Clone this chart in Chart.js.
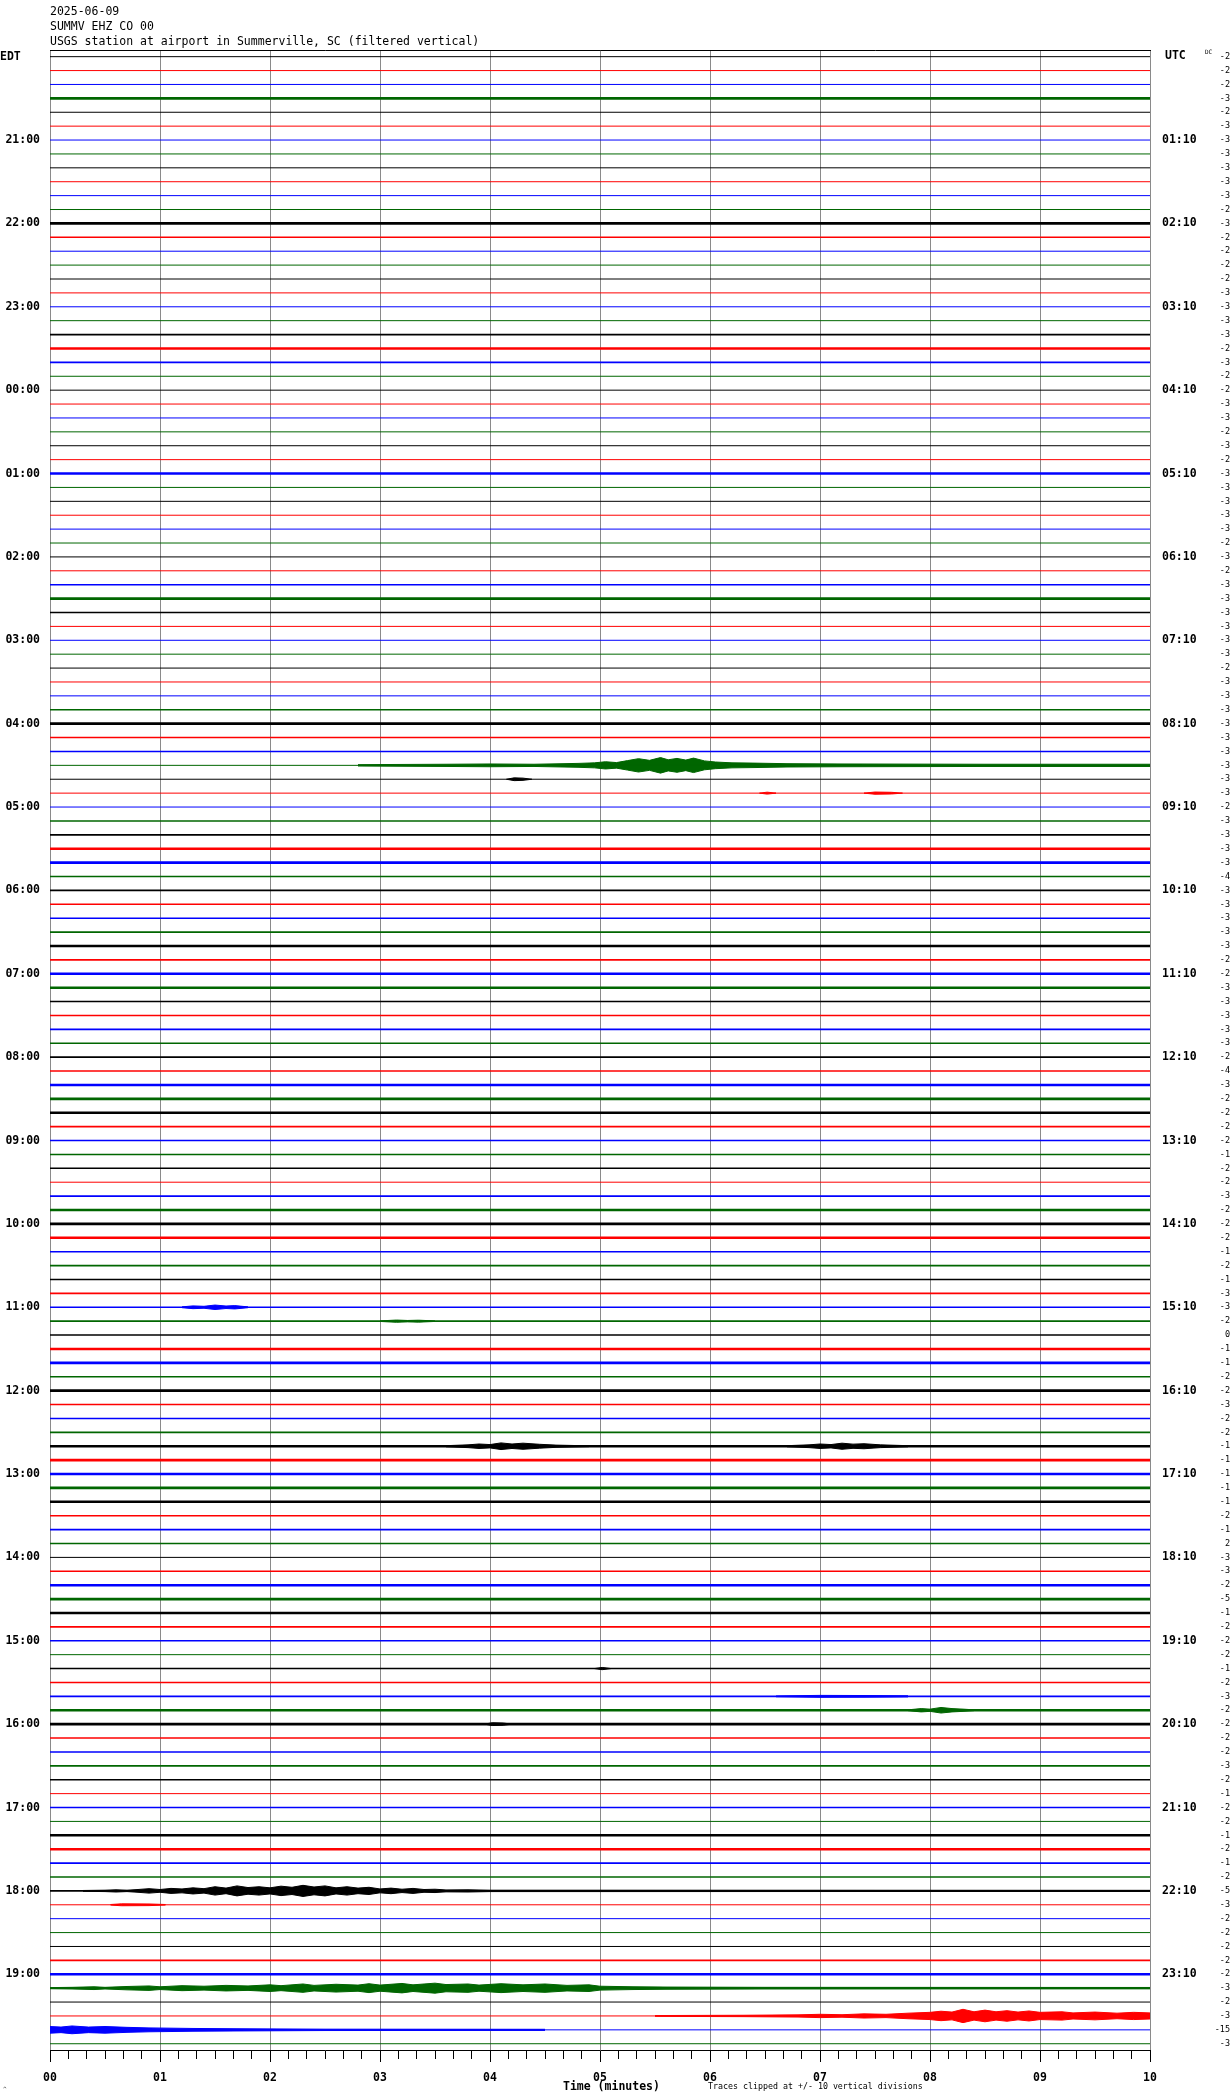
<!DOCTYPE html>
<html>
<head>
<meta charset="utf-8">
<title>SUMMV EHZ CO 00 helicorder</title>
<script src="https://cdn.jsdelivr.net/npm/chart.js@4.4.1/dist/chart.umd.min.js"></script>
<style>
  html, body { margin: 0; padding: 0; background: #fff; }
  canvas { display: block; }
</style>
</head>
<body>
<canvas id="heli" width="1230" height="2094"></canvas>
<script>
// one trace per 10 minutes, 144 traces starting 20:00 EDT
const header = ['2025-06-09', 'SUMMV EHZ CO 00', 'USGS station at airport in Summerville, SC (filtered vertical)'];
const xTitle = 'Time (minutes)';
const footNote = 'Traces clipped at +/- 10 vertical divisions';

const edtHours = ['21:00', '22:00', '23:00', '00:00', '01:00', '02:00', '03:00', '04:00', '05:00', '06:00', '07:00', '08:00',
  '09:00', '10:00', '11:00', '12:00', '13:00', '14:00', '15:00', '16:00', '17:00', '18:00', '19:00'];
const utcHours = ['01:10', '02:10', '03:10', '04:10', '05:10', '06:10', '07:10', '08:10', '09:10', '10:10', '11:10', '12:10',
  '13:10', '14:10', '15:10', '16:10', '17:10', '18:10', '19:10', '20:10', '21:10', '22:10', '23:10'];
const minuteLabels = ['00', '01', '02', '03', '04', '05', '06', '07', '08', '09', '10'];

// DC offset printed at the right of every trace
const dcOffsets = [
  -2, -2, -2, -3, -2, -3, -3, -3, -3, -3, -3, -2, -3, -2, -2, -2, -2, -3, -3, -3, -3, -2, -3, -2,
  -2, -3, -3, -2, -3, -2, -3, -3, -3, -3, -3, -2, -3, -2, -3, -3, -3, -3, -3, -3, -2, -3, -3, -3,
  -3, -3, -3, -3, -3, -3, -2, -3, -3, -3, -3, -4, -3, -3, -3, -3, -3, -2, -2, -3, -3, -3, -3, -3,
  -2, -4, -3, -2, -2, -2, -2, -1, -2, -2, -3, -2, -2, -2, -1, -2, -1, -3, -3, -2, 0, -1, -1, -2,
  -2, -3, -2, -2, -1, -1, -1, -1, -1, -2, -1, 2, -3, -3, -2, -5, -1, -2, -2, -2, -1, -2, -3, -2,
  -2, -2, -2, -3, -2, -1, -2, -2, -1, -2, -1, -2, -5, -3, -2, -2, -2, -2, -2, -3, -2, -3, -15, -3
];

// background noise of each trace: 1 quiet, 2 speckled, 3 busy
const noiseLevel = [
  1, 1, 1, 3, 1, 1, 1, 1, 1, 1, 1, 1, 3, 2, 1, 1, 1, 1, 1, 1, 2, 3, 2, 1,
  1, 1, 1, 1, 1, 1, 3, 1, 1, 1, 1, 1, 1, 1, 2, 3, 2, 1, 1, 1, 1, 1, 1, 2,
  3, 2, 2, 1, 1, 1, 1, 2, 2, 3, 3, 2, 2, 2, 2, 2, 3, 2, 3, 3, 2, 2, 2, 2,
  2, 2, 3, 3, 3, 2, 2, 2, 2, 1, 2, 3, 3, 3, 2, 2, 2, 2, 2, 2, 2, 3, 3, 2,
  3, 2, 2, 2, 3, 3, 3, 3, 3, 2, 2, 2, 1, 2, 3, 3, 3, 2, 2, 1, 2, 2, 2, 3,
  3, 2, 2, 2, 2, 1, 2, 1, 3, 3, 2, 2, 2, 1, 1, 1, 1, 2, 3, 2, 1, 1, 1, 1
];

// wiggle bursts: trace row, then [minute, half height in trace spacings]
const bursts = [
  { row: 51, env: [[2.8, .05], [3.6, .08], [4.0, .1], [4.4, .08], [4.8, .14], [4.95, .18], [5.05, .26], [5.15, .2], [5.25, .34],
    [5.35, .48], [5.45, .36], [5.55, .56], [5.62, .4], [5.7, .5], [5.78, .38], [5.85, .52], [5.95, .32], [6.05, .24], [6.2, .18],
    [6.4, .16], [6.7, .12], [7.2, .1], [8.5, .08], [10, .08]] },
  { row: 52, env: [[4.15, 0], [4.22, .1], [4.3, .08], [4.38, 0]] },
  { row: 53, env: [[6.45, 0], [6.52, .07], [6.6, 0]] },
  { row: 53, env: [[7.4, 0], [7.5, .08], [7.65, .06], [7.75, 0]] },
  { row: 90, env: [[1.2, .03], [1.3, .1], [1.4, .07], [1.5, .16], [1.6, .09], [1.68, .12], [1.8, .03]] },
  { row: 91, env: [[3.0, .02], [3.15, .08], [3.25, .05], [3.35, .07], [3.5, .02]] },
  { row: 100, env: [[3.6, .04], [3.8, .1], [3.9, .16], [4.0, .12], [4.1, .24], [4.2, .16], [4.3, .22], [4.45, .14], [4.6, .08],
    [4.9, .03]] },
  { row: 100, env: [[6.7, .04], [6.9, .1], [7.0, .16], [7.1, .12], [7.2, .22], [7.3, .15], [7.4, .18], [7.55, .1], [7.8, .04]] },
  { row: 116, env: [[4.95, 0], [5.02, .08], [5.1, 0]] },
  { row: 118, env: [[6.6, .03], [7.0, .07], [7.4, .06], [7.8, .04]] },
  { row: 119, env: [[7.8, .03], [7.92, .12], [8.0, .08], [8.1, .2], [8.2, .12], [8.3, .08], [8.4, .03]] },
  { row: 120, env: [[3.95, 0], [4.02, .1], [4.12, .08], [4.2, 0]] },
  { row: 132, env: [[0.3, .03], [0.5, .05], [0.6, .08], [0.7, .05], [0.8, .1], [0.9, .16], [1.0, .1], [1.1, .18], [1.2, .14],
    [1.3, .22], [1.4, .16], [1.5, .3], [1.6, .2], [1.7, .36], [1.8, .24], [1.9, .3], [2.0, .22], [2.1, .34], [2.2, .26],
    [2.3, .4], [2.4, .28], [2.5, .36], [2.6, .22], [2.7, .3], [2.8, .2], [2.9, .26], [3.0, .14], [3.1, .2], [3.2, .12],
    [3.3, .18], [3.4, .1], [3.5, .12], [3.6, .07], [3.8, .08], [4.0, .05], [5.0, .05], [10, .04]] },
  { row: 133, env: [[0.55, .02], [0.65, .07], [0.9, .06], [1.05, .02]] },
  { row: 139, env: [[0, .04], [0.2, .06], [0.4, .1], [0.5, .06], [0.7, .12], [0.9, .16], [1.0, .1], [1.2, .18], [1.4, .14],
    [1.6, .2], [1.8, .16], [2.0, .24], [2.1, .18], [2.3, .3], [2.4, .2], [2.6, .28], [2.8, .22], [2.9, .32], [3.0, .22],
    [3.2, .34], [3.3, .24], [3.5, .36], [3.6, .26], [3.8, .3], [3.9, .22], [4.1, .32], [4.3, .24], [4.5, .3], [4.7, .2],
    [4.9, .24], [5.0, .14], [5.3, .1], [5.6, .08], [6.5, .06], [10, .05]] },
  { row: 141, env: [[5.5, .03], [6.3, .05], [6.8, .08], [7.0, .12], [7.2, .09], [7.4, .15], [7.6, .12], [7.8, .2], [8.0, .26],
    [8.1, .34], [8.2, .28], [8.3, .48], [8.4, .3], [8.5, .42], [8.6, .3], [8.7, .38], [8.8, .28], [8.9, .36], [9.0, .26],
    [9.2, .3], [9.3, .22], [9.5, .28], [9.7, .2], [9.85, .26], [10, .22]] },
  { row: 142, env: [[0, .24], [0.1, .2], [0.2, .28], [0.35, .2], [0.5, .24], [0.7, .18], [0.9, .14], [1.1, .12], [1.3, .1],
    [1.7, .08], [2.5, .05], [4.5, .04]] }
];

const traceColors = ['#000000', '#ff0000', '#0000ff', '#006600'];
const lineWidths = { 1: 1, 2: 1.6, 3: 2.6 };
const gridGray = '#8a8a8a';
const yMin = -0.48, yMax = 143.45;
const hourRows = edtHours.map((h, i) => 6 * (i + 1));
const boldFont = { family: 'DejaVu Sans Mono', size: 11.5, weight: 'bold' };

const datasets = [];
for (let r = 0; r < dcOffsets.length; r++) {
  datasets.push({
    data: [{ x: 0, y: r }, { x: 10, y: r }],
    borderColor: traceColors[r % 4],
    borderWidth: lineWidths[noiseLevel[r]],
    showLine: true, pointRadius: 0, fill: false
  });
}
bursts.forEach(b => {
  const col = traceColors[b.row % 4];
  datasets.push({
    data: b.env.map(([m, a]) => ({ x: m, y: b.row - a })),
    borderColor: col, borderWidth: 1, showLine: true, pointRadius: 0, fill: false
  });
  datasets.push({
    data: b.env.map(([m, a]) => ({ x: m, y: b.row + a })),
    borderColor: col, backgroundColor: col, borderWidth: 1, showLine: true, pointRadius: 0, fill: '-1'
  });
});

const textPlugin = {
  id: 'heliText',
  afterDraw(chart) {
    const ctx = chart.ctx;
    ctx.save();
    ctx.fillStyle = '#000';
    ctx.textBaseline = 'middle';
    ctx.font = '11.5px "DejaVu Sans Mono"';
    header.forEach((t, i) => ctx.fillText(t, 50, 12.5 + i * 14.8));
    ctx.font = 'bold 11.5px "DejaVu Sans Mono"';
    ctx.fillText('EDT', 0, 57);
    ctx.fillText('UTC', 1165, 56);
    ctx.fillText(xTitle, 563, 2087);
    ctx.font = '8.3px "DejaVu Sans Mono"';
    ctx.fillText(footNote, 708, 2087);
    ctx.font = '6px "DejaVu Sans Mono"';
    ctx.fillText('DC', 1205, 52);
    ctx.fillText('^', 3, 2089);
    ctx.restore();
  }
};

new Chart(document.getElementById('heli'), {
  type: 'scatter',
  data: { datasets: datasets },
  plugins: [textPlugin],
  options: {
    responsive: false,
    animation: false,
    devicePixelRatio: 1,
    events: [],
    layout: { padding: { top: 50, left: 0, right: 0, bottom: 0 } },
    plugins: { legend: { display: false }, tooltip: { enabled: false } },
    scales: {
      x: {
        type: 'linear', position: 'bottom', min: 0, max: 10, z: 1,
        afterBuildTicks: s => { s.ticks = Array.from({ length: 61 }, (_, i) => ({ value: i / 6 })); },
        afterFit: s => { s.height = 44; },
        ticks: {
          autoSkip: false, maxRotation: 0, padding: 9, color: '#000', font: boldFont,
          callback: (v, i) => (i % 6 === 0 ? minuteLabels[i / 6] : '')
        },
        grid: {
          color: c => (c.index % 6 === 0 ? gridGray : 'rgba(0,0,0,0)'),
          tickColor: '#000', tickLength: 12,
          tickBorderDash: c => (c.index % 6 === 0 ? [] : [8, 30])
        },
        border: { display: true, color: '#000' }
      },
      xTop: {
        type: 'linear', position: 'top', min: 0, max: 10,
        afterFit: s => { s.height = 0; },
        ticks: { display: false },
        grid: { display: false },
        border: { display: true, color: '#000' }
      },
      y: {
        type: 'linear', position: 'left', min: yMin, max: yMax, reverse: true,
        afterBuildTicks: s => { s.ticks = hourRows.map(v => ({ value: v })); },
        afterFit: s => { s.width = 50; },
        ticks: { autoSkip: false, padding: 2, color: '#000', font: boldFont, callback: (v, i) => edtHours[i] },
        grid: { display: false },
        border: { display: false }
      },
      yUtc: {
        type: 'linear', position: 'right', min: yMin, max: yMax, reverse: true,
        afterBuildTicks: s => { s.ticks = hourRows.map(v => ({ value: v })); },
        afterFit: s => { s.width = 52; },
        ticks: { autoSkip: false, padding: 4, color: '#000', font: boldFont, callback: (v, i) => utcHours[i] },
        grid: { display: false },
        border: { display: false }
      },
      yDc: {
        type: 'linear', position: 'right', min: yMin, max: yMax, reverse: true,
        afterBuildTicks: s => { s.ticks = dcOffsets.map((d, i) => ({ value: i })); },
        afterFit: s => { s.width = 28; },
        ticks: {
          autoSkip: false, padding: 7.5, crossAlign: 'far', color: '#000',
          font: { family: 'DejaVu Sans Mono', size: 8.5 },
          callback: (v, i) => String(dcOffsets[i])
        },
        grid: { display: false },
        border: { display: false }
      }
    }
  }
});
</script>
</body>
</html>
